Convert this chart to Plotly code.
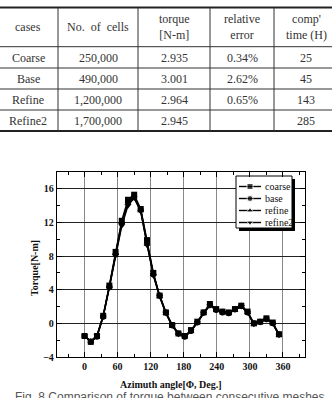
import plotly.graph_objects as go

# ---------------- data ----------------
angles = [0, 11.3, 22.5, 33.8, 45, 56.3, 67.5, 78.8, 90, 101.9, 113.3, 124.8,
          136.2, 147.6, 159, 170.4, 181.8, 193.2, 204.6, 216, 227.4, 238.8,
          250.2, 261.6, 273, 284.4, 295.8, 307.2, 318.6, 330, 341.4, 352.8]
coarse = [-1.5, -2.2, -1.5, 0.9, 4.5, 8.5, 12.2, 14.7, 15.3, 13.6, 9.9, 6.0,
          3.3, 1.3, -0.2, -1.2, -1.5, -0.8, 0.2, 1.3, 2.3, 1.7, 1.4, 1.3,
          1.7, 2.1, 1.4, 0.0, 0.2, 0.6, 0.1, -1.3]
base = [-1.5, -2.2, -1.6, 0.8, 4.3, 8.2, 11.9, 14.4, 15.1, 13.5, 9.6, 5.8,
        3.3, 1.3, -0.2, -1.2, -1.6, -0.9, 0.1, 1.3, 2.2, 1.6, 1.3, 1.2,
        1.7, 2.1, 1.3, 0.0, 0.2, 0.5, 0.0, -1.3]
refine = [-1.5, -2.1, -1.5, 0.9, 4.4, 8.3, 12.0, 14.3, 15.0, 13.4, 9.4, 5.9,
          3.2, 1.2, -0.3, -1.2, -1.5, -0.9, 0.1, 1.2, 2.2, 1.6, 1.4, 1.2,
          1.6, 2.0, 1.3, -0.1, 0.2, 0.5, 0.0, -1.4]
refine2 = [-1.5, -2.1, -1.5, 0.8, 4.3, 8.1, 11.6, 14.0, 14.9, 13.3, 9.3, 5.7,
           3.2, 1.2, -0.3, -1.3, -1.6, -0.9, 0.1, 1.2, 2.1, 1.6, 1.3, 1.2,
           1.6, 2.0, 1.3, -0.1, 0.1, 0.5, 0.0, -1.4]
series_names = ["coarse", "base", "refine", "refine2"]
series_symbols = ["square", "circle", "triangle-up", "triangle-down"]

table_header = ["cases", "No.  of  cells", "torque<br>[N-m]", "relative<br>error", "comp'<br>time (H)"]
table_rows = [
    ["Coarse", "250,000", "2.935", "0.34%", "25"],
    ["Base", "490,000", "3.001", "2.62%", "45"],
    ["Refine", "1,200,000", "2.964", "0.65%", "143"],
    ["Refine2", "1,700,000", "2.945", "", "285"],
]

x_title = "Azimuth angle[Φ, Deg.]"
y_title = "Torque[N-m]"
caption = "Fig. 8 Comparison of torque between consecutive meshes"

# ---------------- layout geometry (pixels) ----------------
W, H = 332, 398
PL, PR, PT, PB = 57, 305, 172, 357


def px(x):
    return (x - PL) / (PR - PL)


def py(y):
    return (PB - y) / (PB - PT)


serif = "Liberation Serif"

fig = go.Figure()
for name, sym, vals in zip(series_names, series_symbols, [coarse, base, refine, refine2]):
    fig.add_trace(go.Scatter(
        x=angles, y=vals, name=name, mode="lines+markers",
        line=dict(color="black", width=1.5),
        marker=dict(symbol=sym, size=6, color="black"),
        showlegend=False,
    ))

# ---- custom legend drawn on a pixel-scaled overlay axis ----
LB = dict(x0=236, x1=292, y0=176, y1=228)   # legend box (px)
SH = 3                                        # shadow offset (px)
row_y = [186.5, 198.5, 210.5, 222.5]
fig.add_trace(go.Scatter(
    x=[LB["x0"] + SH, LB["x1"] + SH, LB["x1"] + SH, LB["x0"] + SH, LB["x0"] + SH],
    y=[LB["y0"] + SH, LB["y0"] + SH, LB["y1"] + SH, LB["y1"] + SH, LB["y0"] + SH],
    xaxis="x2", yaxis="y2", mode="lines", fill="toself", fillcolor="black",
    line=dict(color="black", width=0), showlegend=False, hoverinfo="skip"))
fig.add_trace(go.Scatter(
    x=[LB["x0"], LB["x1"], LB["x1"], LB["x0"], LB["x0"]],
    y=[LB["y0"], LB["y0"], LB["y1"], LB["y1"], LB["y0"]],
    xaxis="x2", yaxis="y2", mode="lines", fill="toself", fillcolor="white",
    line=dict(color="black", width=1), showlegend=False, hoverinfo="skip"))
for name, sym, ry in zip(series_names, series_symbols, row_y):
    fig.add_trace(go.Scatter(
        x=[239, 250, 261], y=[ry, ry, ry], xaxis="x2", yaxis="y2",
        mode="lines+markers", line=dict(color="black", width=1.4),
        marker=dict(symbol=sym, size=[0, 6, 0], color="black"),
        showlegend=False, hoverinfo="skip"))

axis_common = dict(
    showline=True, linecolor="black", linewidth=1.3, mirror="allticks",
    ticks="inside", ticklen=5, tickcolor="black", tickwidth=1,
    showgrid=True, gridwidth=1, zeroline=False,
    tickfont=dict(family=serif, size=10, color="#111", weight="bold"),
)
fig.update_layout(
    xaxis=dict(range=[-50, 400], gridcolor="#888",
               tickvals=[0, 60, 120, 180, 240, 300, 360],
               minor=dict(tickvals=[-30, 30, 90, 150, 210, 270, 330, 390], ticks="inside",
                          ticklen=3, tickcolor="black", showgrid=False),
               **axis_common),
    yaxis=dict(range=[-4, 18], tick0=-4, dtick=4, gridcolor="#222",
               minor=dict(dtick=2, tick0=0, ticks="inside", ticklen=3,
                          tickcolor="black", showgrid=False),
               **axis_common),
    xaxis2=dict(overlaying="x", range=[PL, PR], visible=False, fixedrange=True),
    yaxis2=dict(overlaying="y", range=[PB, PT], visible=False, fixedrange=True),
)

shapes = []
annotations = []

# ---- table ----
col_edges = [0, 58, 138, 210, 274, 332]
row_lines = [46.7, 68, 89, 110]
t_top, t_bot = 7.5, 131
shapes.append(dict(type="line", xref="paper", yref="paper", x0=px(0), x1=px(W),
                   y0=py(t_top), y1=py(t_top), line=dict(color="#222", width=2)))
shapes.append(dict(type="line", xref="paper", yref="paper", x0=px(0), x1=px(W),
                   y0=py(t_bot), y1=py(t_bot), line=dict(color="#222", width=2)))
for ry in row_lines:
    shapes.append(dict(type="line", xref="paper", yref="paper", x0=px(0), x1=px(W),
                       y0=py(ry), y1=py(ry), line=dict(color="#333", width=1)))
for cx in col_edges[1:-1]:
    shapes.append(dict(type="line", xref="paper", yref="paper", x0=px(cx), x1=px(cx),
                       y0=py(t_top), y1=py(t_bot), line=dict(color="#333", width=1)))

col_centers = [28, 98, 174, 242, 306]
row_centers = [27, 57.5, 78.5, 99.5, 120.5]
tfont = dict(family=serif, size=12, color="#333")
for c, txt in enumerate(table_header):
    annotations.append(dict(text=txt, x=px(col_centers[c]), y=py(row_centers[0]),
                            xref="paper", yref="paper", showarrow=False,
                            xanchor="center", yanchor="middle", font=tfont))
for r, row in enumerate(table_rows):
    for c, txt in enumerate(row):
        if txt:
            annotations.append(dict(text=txt, x=px(col_centers[c]), y=py(row_centers[r + 1]),
                                    xref="paper", yref="paper", showarrow=False,
                                    xanchor="center", yanchor="middle", font=tfont))

# ---- legend labels ----
for name, ry in zip(series_names, row_y):
    annotations.append(dict(text=name, x=px(263), y=py(ry), xref="paper", yref="paper",
                            showarrow=False, xanchor="left", yanchor="middle",
                            font=dict(family=serif, size=10, color="#111")))

# ---- axis titles & caption ----
annotations.append(dict(text="<b>" + x_title + "</b>", x=px(171), y=py(384),
                        xref="paper", yref="paper", showarrow=False,
                        xanchor="center", yanchor="middle",
                        font=dict(family=serif, size=10, color="#111")))
annotations.append(dict(text="<b>" + y_title + "</b>", x=px(34), y=py(268),
                        xref="paper", yref="paper", showarrow=False, textangle=-90,
                        xanchor="center", yanchor="middle",
                        font=dict(family=serif, size=10, color="#111")))
annotations.append(dict(text=caption, x=px(170), y=py(388),
                        xref="paper", yref="paper", showarrow=False,
                        xanchor="center", yanchor="top",
                        font=dict(family="Liberation Sans", size=12, color="#555")))

fig.update_layout(
    width=W, height=H,
    margin=dict(l=PL, r=W - PR, t=PT, b=H - PB),
    paper_bgcolor="white", plot_bgcolor="white",
    showlegend=False,
    shapes=shapes, annotations=annotations,
)

fig.write_html("out.html")
